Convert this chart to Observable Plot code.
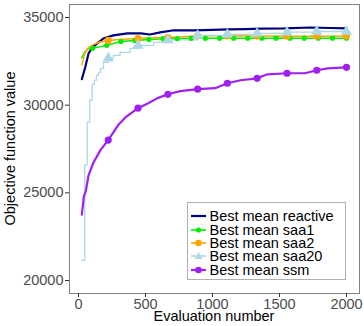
<!DOCTYPE html>
<html>
<head>
<meta charset="utf-8">
<script src="https://cdn.jsdelivr.net/npm/d3@7"></script>
<script src="https://cdn.jsdelivr.net/npm/@observablehq/plot@0.6"></script>
<style>
  html, body { margin: 0; padding: 0; background: white; }
  #wrap { position: relative; width: 364px; height: 326px; font-family: "Liberation Sans", Arial, sans-serif; }
  #wrap > svg { display: block; }
  #legend { position: absolute; left: 187px; top: 202px; width: 154px; border: 1px solid #b0b0b0; background: white;
    padding: 6.5px 0 3px 3px; box-sizing: content-box; }
  .row { height: 13.35px; font-size: 14.5px; color: black; white-space: nowrap; display: flex; align-items: center; }
  .row svg { flex: none; margin-right: 3.5px; }
  .row span { display: block; height: 12px; line-height: 12px; overflow: visible; }
  .title { position: absolute; font-size: 14.5px; line-height: 9px; height: 9px; color: black; text-align: center; white-space: nowrap; }
  #xtitle { left: 114px; width: 200px; top: 311.5px; }
  #ytitle { left: -90px; width: 200px; top: 144px; transform: rotate(-90deg); transform-origin: 100px 4.5px; }
</style>
</head>
<body>
<div id="wrap"></div>
<script>
// ---- data ----
const xTicks = [0, 500, 1000, 1500, 2000];
const yTicks = [20000, 25000, 30000, 35000];
const xTitle = "Evaluation number";
const yTitle = "Objective function value";

const reactiveEval = [25, 50, 75, 105, 140, 185, 260, 365, 465, 535, 610, 700, 860, 1000, 1120, 1250, 1360, 1540, 1730, 1880, 2000];
const reactiveVal  = [31480, 32150, 32950, 33300, 33520, 33800, 33980, 34090, 34090, 34030, 34150, 34260, 34260, 34290, 34320, 34340, 34370, 34380, 34430, 34400, 34380];

const saa1Eval = [25, 45, 70, 105, 211, 316, 421, 526, 632, 737, 842, 947, 1053, 1158, 1263, 1368, 1474, 1579, 1684, 1789, 1895, 2000];
const saa1Val  = [32700, 33000, 33200, 33240, 33410, 33630, 33690, 33750, 33790, 33800, 33810, 33810, 33810, 33815, 33815, 33815, 33820, 33820, 33820, 33820, 33820, 33820];

const saa2Eval = [25, 45, 70, 110, 160, 222, 300, 444, 550, 667, 780, 889, 1000, 1111, 1222, 1333, 1444, 1556, 1667, 1778, 1889, 2000];
const saa2Val  = [32300, 32900, 33250, 33450, 33600, 33690, 33750, 33800, 33840, 33860, 33900, 33960, 33960, 33950, 33950, 33940, 33940, 33930, 33930, 33930, 33935, 33940];

const saa20Eval = [25, 47, 65, 84, 102, 119, 134, 149, 164, 187, 222, 260, 310, 385, 444, 560, 630, 667, 889, 1111, 1333, 1556, 1778, 2000];
const saa20Val  = [21150, 26590, 29030, 30280, 31190, 31420, 31700, 31875, 32100, 32440, 32670, 32840, 33010, 33240, 33410, 33580, 33690, 33720, 33977, 34034, 34090, 34160, 34200, 34200];

const ssmEval = [25, 40, 55, 75, 110, 165, 222, 300, 350, 444, 520, 590, 667, 760, 889, 1020, 1111, 1210, 1333, 1410, 1556, 1690, 1778, 1858, 2000];
const ssmVal  = [23750, 24800, 25100, 26000, 26700, 27450, 28010, 28900, 29300, 29830, 30110, 30400, 30620, 30800, 30910, 30970, 31250, 31420, 31530, 31760, 31820, 31820, 31990, 32100, 32160];

const markEvery9  = [222, 444, 667, 889, 1111, 1333, 1556, 1778, 2000];
const markEvery19 = [105, 211, 316, 421, 526, 632, 737, 842, 947, 1053, 1158, 1263, 1368, 1474, 1579, 1684, 1789, 1895, 2000];

const seriesNames = ["Best mean reactive", "Best mean saa1", "Best mean saa2", "Best mean saa20", "Best mean ssm"];
const seriesColors = ["#000080", "#00EE00", "#FFA500", "#ADD8E6", "#A020F0"];

// ---- build tables ----
const rows = (evals, vals) => evals.map((e, i) => ({eval: e, value: vals[i]}));
const reactive = rows(reactiveEval, reactiveVal);
const saa1 = rows(saa1Eval, saa1Val);
const saa2 = rows(saa2Eval, saa2Val);
const saa20 = rows(saa20Eval, saa20Val);
const ssm = rows(ssmEval, ssmVal);
const pick = (data, set) => data.filter(d => set.includes(d.eval));

const xy = {x: "eval", y: "value"};

const chart = Plot.plot({
  width: 364,
  height: 326,
  marginLeft: 69,
  marginRight: 5,
  marginTop: 4,
  marginBottom: 33,
  style: {fontFamily: '"Liberation Sans", Arial, sans-serif', fontSize: "14.5px", background: "white"},
  x: {domain: [-67, 2097]},
  y: {domain: [19259, 35741]},
  marks: [
    Plot.frame({stroke: "#7f7f7f", strokeWidth: 1}),
    Plot.axisX({ticks: xTicks, tickSize: 4, tickPadding: 1, stroke: "#333", color: "#4d4d4d", fontSize: 14.5,
      tickFormat: d3.format("d"), label: null}),
    Plot.axisY({ticks: yTicks, tickSize: 4, tickPadding: 2, stroke: "#333", color: "#4d4d4d", fontSize: 14.5,
      tickFormat: d3.format("d"), label: null}),
    Plot.line(reactive, {...xy, stroke: seriesColors[0], strokeWidth: 2.2}),
    Plot.line(saa1, {...xy, stroke: seriesColors[1], strokeWidth: 1.5}),
    Plot.line(saa2, {...xy, stroke: seriesColors[2], strokeWidth: 1.5}),
    Plot.line(saa20, {...xy, stroke: seriesColors[3], strokeWidth: 1.3, curve: "step-after"}),
    Plot.line(ssm, {...xy, stroke: seriesColors[4], strokeWidth: 2.2}),
    Plot.dot(pick(saa1, markEvery19), {...xy, fill: seriesColors[1], r: 2.6}),
    Plot.dot(pick(saa2, markEvery9), {...xy, fill: seriesColors[2], r: 3.6}),
    Plot.dot(pick(saa20, markEvery9), {...xy, fill: seriesColors[3], symbol: "triangle", r: 4.2}),
    Plot.dot(pick(ssm, markEvery9), {...xy, fill: seriesColors[4], r: 3.6})
  ]
});

const wrap = document.getElementById("wrap");
wrap.appendChild(chart);

// ---- axis titles ----
const xt = document.createElement("div");
xt.className = "title"; xt.id = "xtitle"; xt.textContent = xTitle;
wrap.appendChild(xt);
const yt = document.createElement("div");
yt.className = "title"; yt.id = "ytitle"; yt.textContent = yTitle;
wrap.appendChild(yt);

// ---- legend ----
const legend = document.createElement("div");
legend.id = "legend";
const markerOf = [null, "circleS", "circle", "triangle", "circle"];
seriesNames.forEach((name, i) => {
  const row = document.createElement("div");
  row.className = "row";
  const c = seriesColors[i];
  let m = "";
  if (markerOf[i] === "circle") m = `<circle cx="7.5" cy="6" r="3.3" fill="${c}"/>`;
  else if (markerOf[i] === "circleS") m = `<circle cx="7.5" cy="6" r="2.6" fill="${c}"/>`;
  else if (markerOf[i] === "triangle") m = `<path d="M7.5,2 L11.5,9 L3.5,9 Z" fill="${c}"/>`;
  const sw = i === 0 || i === 4 ? 2.2 : 1.6;
  row.innerHTML = `<svg width="15" height="12"><line x1="0" x2="15" y1="6" y2="6" stroke="${c}" stroke-width="${sw}"/>${m}</svg><span>${name}</span>`;
  legend.appendChild(row);
});
wrap.appendChild(legend);
</script>
</body>
</html>
